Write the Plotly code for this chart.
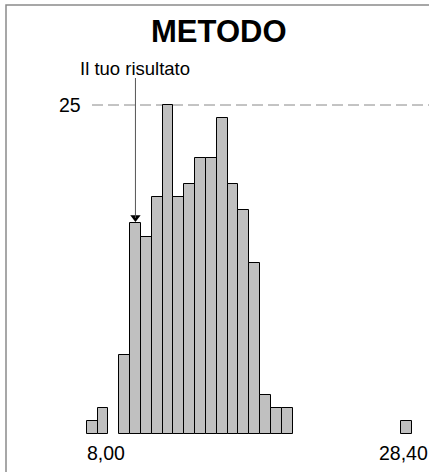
import plotly.graph_objects as go

# ---- data ----
bin_start = 8.00
bin_width = 0.68
counts = [1, 2, 0, 6, 16, 15, 18, 25, 18, 19, 21, 21, 24, 19, 17, 13, 3, 2, 2,
          0, 0, 0, 0, 0, 0, 0, 0, 0, 0, 1]
tick_labels = ["8,00", "28,40"]
ref_level = 25
ref_label = "25"
your_bin = 4
your_label = "Il tuo risultato"
title_text = "METODO"

# ---- geometry helpers ----
W, H = 429, 472
M_T, M_B = 40, 38
PLOT_H = H - M_T - M_B
PX_PER_Y = 13.16
PX_PER_X = 15.93
X0_PX = 86.7

def py(p):  # pixel y -> paper y
    return (H - M_B - p) / PLOT_H

def px(p):  # pixel x -> paper x
    return p / W

centers = [bin_start + bin_width * (i + 0.5) for i in range(len(counts))]
bar_y = [c if c > 0 else None for c in counts]

FONT = "Arial, Liberation Sans, Helvetica, sans-serif"

fig = go.Figure()
fig.add_trace(go.Bar(
    x=centers, y=bar_y, width=bin_width,
    marker=dict(color="#c0c0c0", line=dict(color="#000000", width=1)),
    hoverinfo="skip", showlegend=False,
))

# arrowhead marker on top of "your" bar
fig.add_trace(go.Scatter(
    x=[centers[your_bin]], y=[counts[your_bin] + 0.45],
    mode="markers", marker=dict(symbol="triangle-down", size=9, color="#000000"),
    hoverinfo="skip", showlegend=False,
))

x_min = bin_start - X0_PX / PX_PER_X
x_max = bin_start + (W - X0_PX) / PX_PER_X
y_max = PLOT_H / PX_PER_Y

shapes = [
    # frame
    dict(type="rect", xref="paper", yref="paper", x0=px(6), x1=px(W + 20),
         y0=py(H + 20), y1=py(5), line=dict(color="#8a8a8a", width=1.5), layer="below"),
    # dashed reference line
    dict(type="line", xref="paper", yref="y", x0=px(92), x1=1, y0=ref_level, y1=ref_level,
         line=dict(color="#888888", width=1, dash="11px,5px"), layer="below"),
    # arrow line
    dict(type="line", xref="x", yref="paper", x0=centers[your_bin], x1=centers[your_bin],
         y0=py(218), y1=py(78), line=dict(color="#555555", width=1)),
]

annotations = [
    dict(text="<b>" + title_text + "</b>", xref="paper", yref="paper", x=px(219), y=py(32),
         xanchor="center", yanchor="middle", showarrow=False,
         font=dict(family=FONT, size=31, color="#000")),
    dict(text=your_label, xref="x", yref="paper", x=centers[your_bin], y=py(68),
         xanchor="center", yanchor="middle", showarrow=False,
         font=dict(family=FONT, size=18.5, color="#000")),
    dict(text=ref_label, xref="paper", yref="y", x=px(82.5), y=ref_level,
         xanchor="right", yanchor="middle", showarrow=False,
         font=dict(family=FONT, size=19.5, color="#000")),
    dict(text=tick_labels[0], xref="x", yref="paper", x=bin_start - 0.1, y=py(453.5),
         xanchor="left", yanchor="middle", showarrow=False,
         font=dict(family=FONT, size=19.5, color="#000")),
    dict(text=tick_labels[1], xref="x", yref="paper", x=centers[-1] - 0.2, y=py(453.5),
         xanchor="center", yanchor="middle", showarrow=False,
         font=dict(family=FONT, size=19.5, color="#000")),
]

fig.update_layout(
    width=W, height=H,
    margin=dict(l=0, r=0, t=M_T, b=M_B, pad=0),
    paper_bgcolor="#ffffff", plot_bgcolor="#ffffff",
    xaxis=dict(range=[x_min, x_max], visible=False, fixedrange=True),
    yaxis=dict(range=[0, y_max], visible=False, fixedrange=True),
    shapes=shapes, annotations=annotations,
    bargap=0,
)

fig.write_html("out.html", config={"displayModeBar": False},
               post_script="document.body.style.margin='0';document.body.style.overflow='hidden';")
